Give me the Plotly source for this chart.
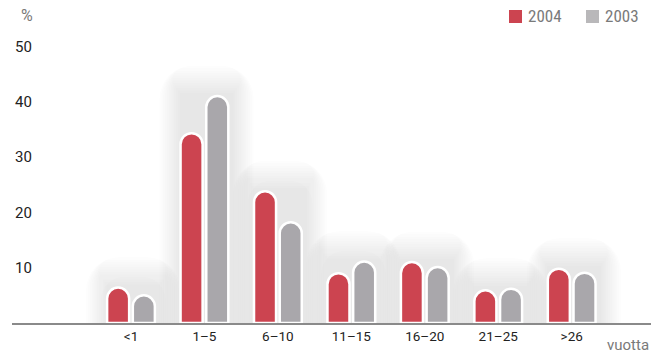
import plotly.graph_objects as go

categories = ["<1", "1\u20135", "6\u201310", "11\u201315", "16\u201320", "21\u201325", ">26"]
values_2004 = [6.4, 34.3, 23.8, 9.0, 11.0, 5.9, 9.8]
values_2003 = [5.0, 41.0, 18.2, 11.1, 10.1, 6.2, 9.1]
y_ticks = [10, 20, 30, 40, 50]
series_names = ["2004", "2003"]

RED = "#cc4450"
GRAY = "#a9a7ab"

idx = list(range(len(categories)))
peak = [max(a, b) for a, b in zip(values_2004, values_2003)]

fig = go.Figure()

# soft haze behind each pair of bars (many faint layers)
n_layers = 12
for k in range(n_layers):
    w = 1.28 - k * 0.05
    extra = 5.5 - k * 0.45
    fig.add_trace(go.Bar(
        x=idx, y=[p + extra for p in peak], width=w, offset=-w / 2 + 0.03,
        marker=dict(color="rgba(95,95,100,0.013)", line=dict(width=0), cornerradius="35%"),
        showlegend=False, hoverinfo="skip",
    ))

fig.add_trace(go.Bar(
    x=idx, y=values_2004, name=series_names[0], width=0.30, offset=-0.325,
    marker=dict(color=RED, line=dict(color="white", width=2.5), cornerradius="50%"),
    showlegend=False,
))
fig.add_trace(go.Bar(
    x=idx, y=values_2003, name=series_names[1], width=0.30, offset=0.025,
    marker=dict(color=GRAY, line=dict(color="white", width=2.5), cornerradius="50%"),
    showlegend=False,
))

# pixel -> paper helpers for the legend/labels
L, R, T, B = 12, 15, 33, 33
PW, PH = 666 - L - R, 356 - T - B
px = lambda p: (p - L) / PW
py = lambda q: (356 - B - q) / PH

shapes = []
annotations = []
legend_items = [(509, RED, series_names[0]), (586, "#b9b8ba", series_names[1])]
for x0, col, name in legend_items:
    shapes.append(dict(type="rect", xref="paper", yref="paper",
                       x0=px(x0), x1=px(x0 + 13), y0=py(23), y1=py(10),
                       fillcolor=col, line=dict(width=0)))
    annotations.append(dict(text=name, x=px(x0 + 17), y=py(16.5), xref="paper", yref="paper",
                            xanchor="left", yanchor="middle", showarrow=False,
                            font=dict(size=17, color="#7a7a7a",
                                      family="'Roboto Condensed', 'Liberation Sans Narrow', Roboto, sans-serif")))

annotations += [
    dict(text="%", x=px(27), y=py(15), xref="paper", yref="paper",
         xanchor="center", yanchor="middle", showarrow=False,
         font=dict(size=16, color="#7a7a7a")),
    dict(text="vuotta", x=1.0, y=py(345), xref="paper", yref="paper",
         xanchor="right", yanchor="middle", showarrow=False,
         font=dict(size=15, color="#7a7a7a")),
]

fig.update_layout(
    width=666, height=356,
    margin=dict(l=L, r=R, t=T, b=B, autoexpand=False),
    paper_bgcolor="white", plot_bgcolor="white",
    barmode="overlay",
    font=dict(family="Roboto, 'Liberation Sans', sans-serif", color="#333333"),
    showlegend=False,
    xaxis=dict(
        range=[-1.62, 7.08], tickmode="array", tickvals=idx, ticktext=categories,
        showgrid=False, zeroline=False, showline=True, linecolor="#8a8a8a", linewidth=2,
        ticks="", tickfont=dict(size=13.5, color="#222222"), fixedrange=True,
    ),
    yaxis=dict(
        range=[0, 52.4], tickmode="array", tickvals=y_ticks,
        ticktext=[str(v) for v in y_ticks], ticklabelposition="inside",
        showgrid=False, zeroline=False, showline=False, ticks="",
        tickfont=dict(size=15, color="#222222"), fixedrange=True,
    ),
    shapes=shapes,
    annotations=annotations,
)

fig.write_html("out.html")
